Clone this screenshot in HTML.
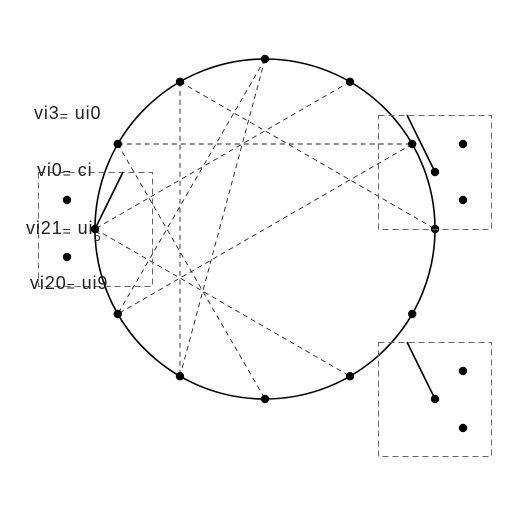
<!DOCTYPE html>
<html><head><meta charset="utf-8"><style>
html,body{margin:0;padding:0;background:#fff;}
svg text{font-family:"Liberation Sans",sans-serif;font-size:18px;fill:#222;letter-spacing:0.9px;}
</style></head><body>
<svg width="512" height="512" viewBox="0 0 512 512">
<circle cx="265" cy="229" r="170" fill="none" stroke="#000" stroke-width="1.6"/>
<g id="chords"></g>
<g id="nodes"></g>
<g>
<rect x="38.5" y="172.5" width="114" height="114" fill="none" stroke="#666" stroke-dasharray="6,4"/>
<line x1="95" y1="229" x2="123" y2="172" stroke="#000" stroke-width="1.6"/>
<circle cx="67" cy="200" r="4.2"/>
<circle cx="67" cy="257" r="4.2"/>
</g>
<g>
<rect x="378.5" y="115.5" width="113" height="114" fill="none" stroke="#666" stroke-dasharray="6,4"/>
<line x1="407" y1="115" x2="435" y2="172" stroke="#000" stroke-width="1.6"/>
<circle cx="435" cy="172" r="4.2"/>
<circle cx="463" cy="144" r="4.2"/>
<circle cx="463" cy="200" r="4.2"/>
</g>
<g>
<rect x="378.5" y="342.5" width="113" height="114" fill="none" stroke="#666" stroke-dasharray="6,4"/>
<line x1="407" y1="342" x2="435" y2="399" stroke="#000" stroke-width="1.6"/>
<circle cx="435" cy="399" r="4.2"/>
<circle cx="463" cy="371" r="4.2"/>
<circle cx="463" cy="428" r="4.2"/>
</g>
<text x="34" y="119">vi3<tspan font-size="14" dy="2">=</tspan><tspan dy="-2"> ui0</tspan></text>
<text x="37" y="176">vi0<tspan font-size="14" dy="2">=</tspan><tspan dy="-2"> ci</tspan></text>
<text x="26" y="234">vi21<tspan font-size="14" dy="2">=</tspan><tspan dy="-2"> ui</tspan><tspan font-size="13" dy="7">6</tspan></text>
<text x="30" y="289">vi20<tspan font-size="14" dy="2">=</tspan><tspan dy="-2"> ui9</tspan></text>
</svg>
<script>
const nodeCount = 12;
const chordFrom = [11, 11, 10, 10, 0, 0, 1, 2, 9];
const chordTo   = [7, 3, 2, 6, 7, 8, 9, 8, 5];
const cx = 265, cy = 229, R = 170;
const NS = "http://www.w3.org/2000/svg";
function pt(i){const a = -Math.PI/2 + i*2*Math.PI/nodeCount;return [cx+R*Math.cos(a), cy+R*Math.sin(a)];}
const cg = document.getElementById('chords');
for (let k=0;k<chordFrom.length;k++){
  const a=pt(chordFrom[k]), b=pt(chordTo[k]);
  const l=document.createElementNS(NS,'line');
  l.setAttribute('x1',a[0]);l.setAttribute('y1',a[1]);l.setAttribute('x2',b[0]);l.setAttribute('y2',b[1]);
  l.setAttribute('stroke','#222');l.setAttribute('stroke-width','0.9');l.setAttribute('stroke-dasharray','5,4');
  
  
  cg.appendChild(l);
}
const ng = document.getElementById('nodes');
for (let i=0;i<nodeCount;i++){
  const p=pt(i);
  const c=document.createElementNS(NS,'circle');
  c.setAttribute('cx',p[0]);c.setAttribute('cy',p[1]);c.setAttribute('r',4.2);
  
  
  ng.appendChild(c);
}
</script>
</body></html>
